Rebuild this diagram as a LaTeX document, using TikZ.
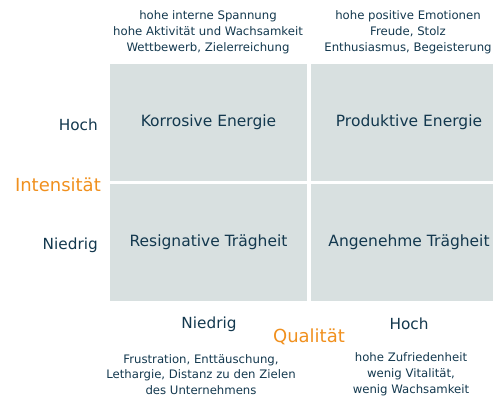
\documentclass[tikz,border=0pt]{standalone}
\usepackage{fontspec}
\setmainfont{DejaVu Sans}
\usepackage{tikz}
\usetikzlibrary{positioning}
\definecolor{navy}{RGB}{19, 56, 78}
\definecolor{achsorange}{RGB}{240, 144, 30}
\definecolor{feldgrau}{RGB}{216, 224, 224}

\begin{document}
\begin{tikzpicture}[x=1pt, y=-1pt,
        feld/.style={fill=feldgrau, minimum width=197pt, minimum height=117pt, inner sep=0pt,
                     font=\fontsize{15.5}{18}\selectfont, text=navy},
        notiz/.style={align=center, inner sep=0pt, font=\fontsize{11.7}{15.8}\selectfont, text=navy},
        stufe/.style={inner sep=0pt, font=\fontsize{15.3}{18}\selectfont, text=navy},
        achse/.style={inner sep=0pt, font=\fontsize{18}{20}\selectfont, text=achsorange},
    ]
        \clip (0,0) rectangle (493,396);
        \useasboundingbox (0,0) rectangle (493,396);

        % die vier Felder der Matrix
        \node[feld] (korr) at (208.5,122.5) {Korrosive Energie};
        \node[feld] (prod) at (409,122.5)   {Produktive Energie};
        \node[feld] (resi) at (208.5,242.5) {Resignative Trägheit};
        \node[feld] (ange) at (409,242.5)   {Angenehme Trägheit};

        % Achse Intensität
        \node[stufe, anchor=east] (ihoch)    at (98,125) {Hoch};
        \node[stufe, anchor=east] (iniedrig) at (98,245) {Niedrig};
        \node[achse, anchor=east] (intens)   at (101,185) {Intensität};

        % Achse Qualität
        \node[stufe] (qniedrig) at (209,324) {Niedrig};
        \node[stufe] (qhoch)    at (409,324) {Hoch};
        \node[achse] (qual)     at (309,337) {Qualität};

        % Beschreibungen oben und unten
        \node[notiz] (nkorr) at (208,32.5) {hohe interne Spannung\\hohe Aktivität und Wachsamkeit\\Wettbewerb, Zielerreichung};
        \node[notiz] (nprod) at (408,32.5) {hohe positive Emotionen\\Freude, Stolz\\Enthusiasmus, Begeisterung};
        \node[notiz] (nresi) at (201,374.5)  {Frustration, Enttäuschung,\\Lethargie, Distanz zu den Zielen\\des Unternehmens};
        \node[notiz] (nange) at (411,374.5)  {hohe Zufriedenheit\\wenig Vitalität,\\wenig Wachsamkeit};
    \end{tikzpicture}
\end{document}
